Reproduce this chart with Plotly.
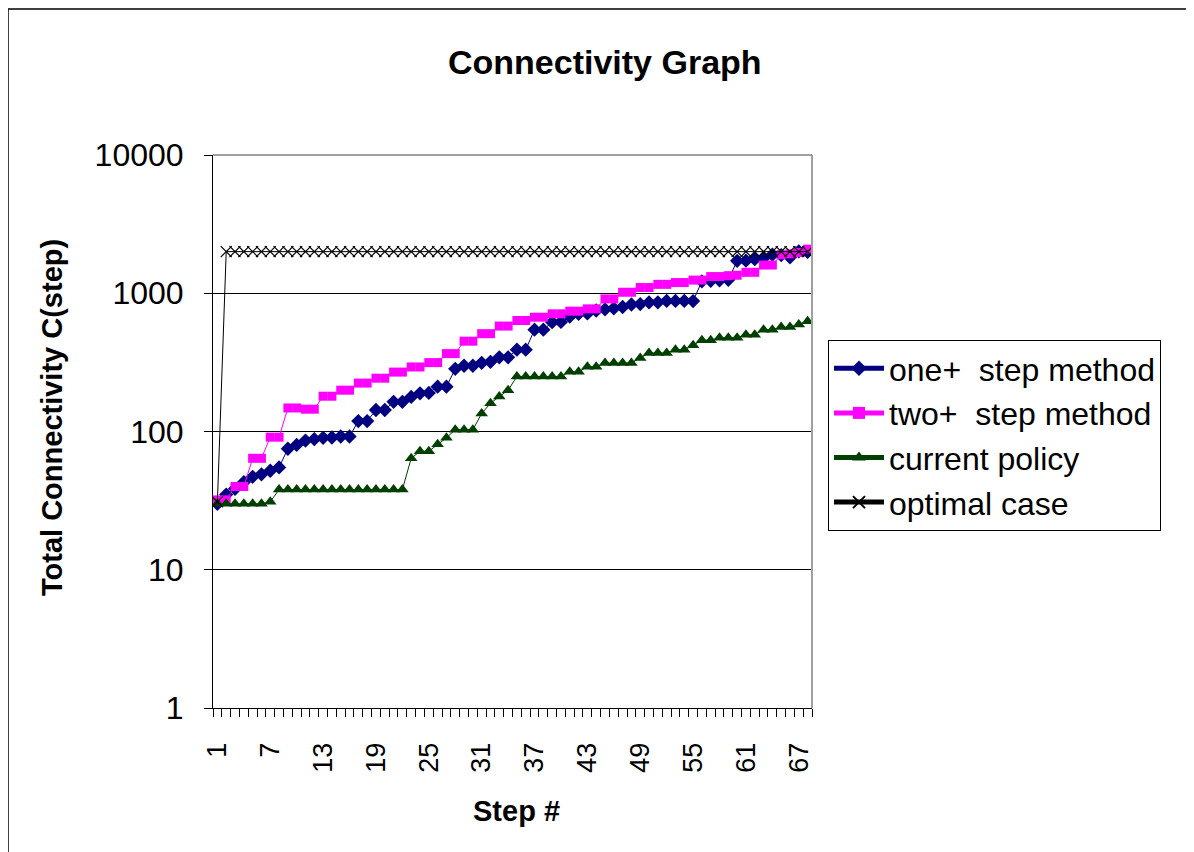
import plotly.graph_objects as go

steps = list(range(1, 69))

one_plus = [30, 35, 38.5, 43, 47, 49, 52, 55, 75, 80, 86, 88, 90, 90.5, 92, 92,
            119, 119, 143, 143, 164, 164, 178, 189, 190, 211, 211, 284, 299, 299,
            314, 319, 344, 344, 391, 391, 545, 545, 618, 620, 679, 710, 715, 750,
            765, 778, 795, 829, 835, 858, 860, 880, 880, 880, 878, 1220, 1230,
            1240, 1250, 1715, 1720, 1765, 1795, 1900, 1890, 1820, 2010, 1990]

two_plus = [32, 32, 40, 40, 64, 64, 91, 91, 148, 148, 145, 145, 180, 180, 199, 199,
            224, 224, 243, 243, 269, 269, 293, 293, 315, 315, 366, 366, 450, 450,
            510, 510, 579, 579, 635, 635, 671, 671, 710, 710, 742, 742, 771, 771,
            910, 910, 1017, 1017, 1100, 1100, 1160, 1160, 1195, 1195, 1245, 1245,
            1320, 1320, 1340, 1350, 1417, 1417, 1600, 1600, 1900, 1930, 1970, 2085]

current = [30, 30, 30, 30, 30, 30, 31, 38, 38, 38, 38, 38, 38, 38, 38, 38, 38, 38,
           38, 38, 38, 38, 64, 72, 72, 81, 90, 103, 103, 103, 135, 160, 179, 199,
           250, 250, 250, 250, 250, 250, 270, 270, 294, 294, 313, 313, 313, 313,
           340, 370, 370, 370, 390, 390, 420, 458, 458, 477, 477, 477, 501, 501,
           545, 545, 569, 569, 594, 628]

optimal = [31, 2000, 2000, 2000, 2000, 2000, 2000, 2000, 2000, 2000, 2000, 2000,
           2000, 2000, 2000, 2000, 2000, 2000, 2000, 2000, 2000, 2000, 2000, 2000,
           2000, 2000, 2000, 2000, 2000, 2000, 2000, 2000, 2000, 2000, 2000, 2000,
           2000, 2000, 2000, 2000, 2000, 2000, 2000, 2000, 2000, 2000, 2000, 2000,
           2000, 2000, 2000, 2000, 2000, 2000, 2000, 2000, 2000, 2000, 2000, 2000,
           2000, 2000, 2000, 2000, 2000, 2000, 2000, 2000]

x_tick_vals = [1, 7, 13, 19, 25, 31, 37, 43, 49, 55, 61, 67]
y_tick_vals = [1, 10, 100, 1000, 10000]
y_tick_text = ["1", "10", "100", "1000", "10000"]

series_names = ["one+  step method", "two+  step method", "current policy", "optimal case"]

# page has an 8px body margin; work in screen pixel coordinates
OFF = 8
W, H = 1194, 852
SX0, SX1, SY0, SY1 = 213, 812, 155, 708   # plot area on screen
L, T = SX0 - OFF, SY0 - OFF
PW, PH = SX1 - SX0, SY1 - SY0
R, B = W - L - PW, H - T - PH


def px(x):
    return (x - SX0) / PW


def py(y):
    return (SY1 - y) / PH


fig = go.Figure()
fig.add_trace(go.Scatter(x=steps, y=one_plus, name=series_names[0], mode="lines+markers",
                         line=dict(color="#000080", width=1),
                         marker=dict(symbol="diamond", size=11, color="#000080")))
fig.add_trace(go.Scatter(x=steps, y=two_plus, name=series_names[1], mode="lines+markers",
                         line=dict(color="#FF00FF", width=1),
                         marker=dict(symbol="square", size=9, color="#FF00FF")))
fig.add_trace(go.Scatter(x=steps, y=current, name=series_names[2], mode="lines+markers",
                         line=dict(color="#003F00", width=1),
                         marker=dict(symbol="triangle-up", size=11, color="#003F00")))
fig.add_trace(go.Scatter(x=steps, y=optimal, name=series_names[3], mode="lines+markers",
                         line=dict(color="black", width=1),
                         marker=dict(symbol="x-thin", size=11,
                                     line=dict(color="black", width=1.2), color="black")))

regular = "Liberation Sans, Arial, sans-serif"

fig.update_layout(
    width=W, height=H,
    margin=dict(l=L, r=R, t=T, b=B, pad=0),
    paper_bgcolor="white", plot_bgcolor="white",
    showlegend=True,
    legend=dict(x=px(828), y=py(340), xanchor="left", yanchor="top",
                bordercolor="black", borderwidth=1, bgcolor="white",
                font=dict(family=regular, size=32, color="black"),
                itemsizing="constant", itemwidth=50),
    xaxis=dict(range=[0.5, 68.5], tickmode="array", tickvals=x_tick_vals,
               ticktext=[str(v) for v in x_tick_vals], ticks="", tickangle=-90,
               tickfont=dict(family=regular, size=27, color="black"),
               ticklabelstandoff=23,
               showline=True, linecolor="black", linewidth=1, showgrid=False,
               zeroline=False,
               minor=dict(tickmode="linear", tick0=0.5, dtick=1, ticks="outside",
                          ticklen=8, tickcolor="black", tickwidth=1, showgrid=False)),
    yaxis=dict(type="log", range=[0, 4], tickmode="array", tickvals=y_tick_vals,
               ticktext=y_tick_text, ticks="outside", ticklen=8, tickcolor="black",
               tickfont=dict(family=regular, size=32, color="black"),
               ticklabelstandoff=14,
               showline=True, linecolor="black", linewidth=1,
               showgrid=True, gridcolor="black", gridwidth=1, zeroline=False),
    annotations=[
        dict(text="<b>Connectivity Graph</b>", x=px(605), y=py(62), xref="paper", yref="paper",
             showarrow=False, xanchor="center", yanchor="middle",
             font=dict(family=regular, size=34, color="black")),
        dict(text="<b>Total Connectivity C(step)</b>", x=px(52), y=py(418), xref="paper",
             yref="paper", showarrow=False, textangle=-90, xanchor="center", yanchor="middle",
             font=dict(family=regular, size=29, color="black")),
        dict(text="<b>Step #</b>", x=px(516), y=py(811), xref="paper", yref="paper",
             showarrow=False, xanchor="center", yanchor="middle",
             font=dict(family=regular, size=29, color="black")),
    ],
    shapes=[
        dict(type="rect", xref="paper", yref="paper", x0=px(8), x1=px(1192),
             y0=py(900), y1=py(9), line=dict(color="black", width=1.5), layer="below"),
        dict(type="line", xref="paper", yref="paper", x0=1, x1=1, y0=0, y1=1,
             line=dict(color="#A0A0A0", width=2)),
        dict(type="line", xref="paper", yref="paper", x0=0, x1=1, y0=1, y1=1,
             line=dict(color="#808080", width=1.5)),
    ],
)

fig.write_html("out.html")
